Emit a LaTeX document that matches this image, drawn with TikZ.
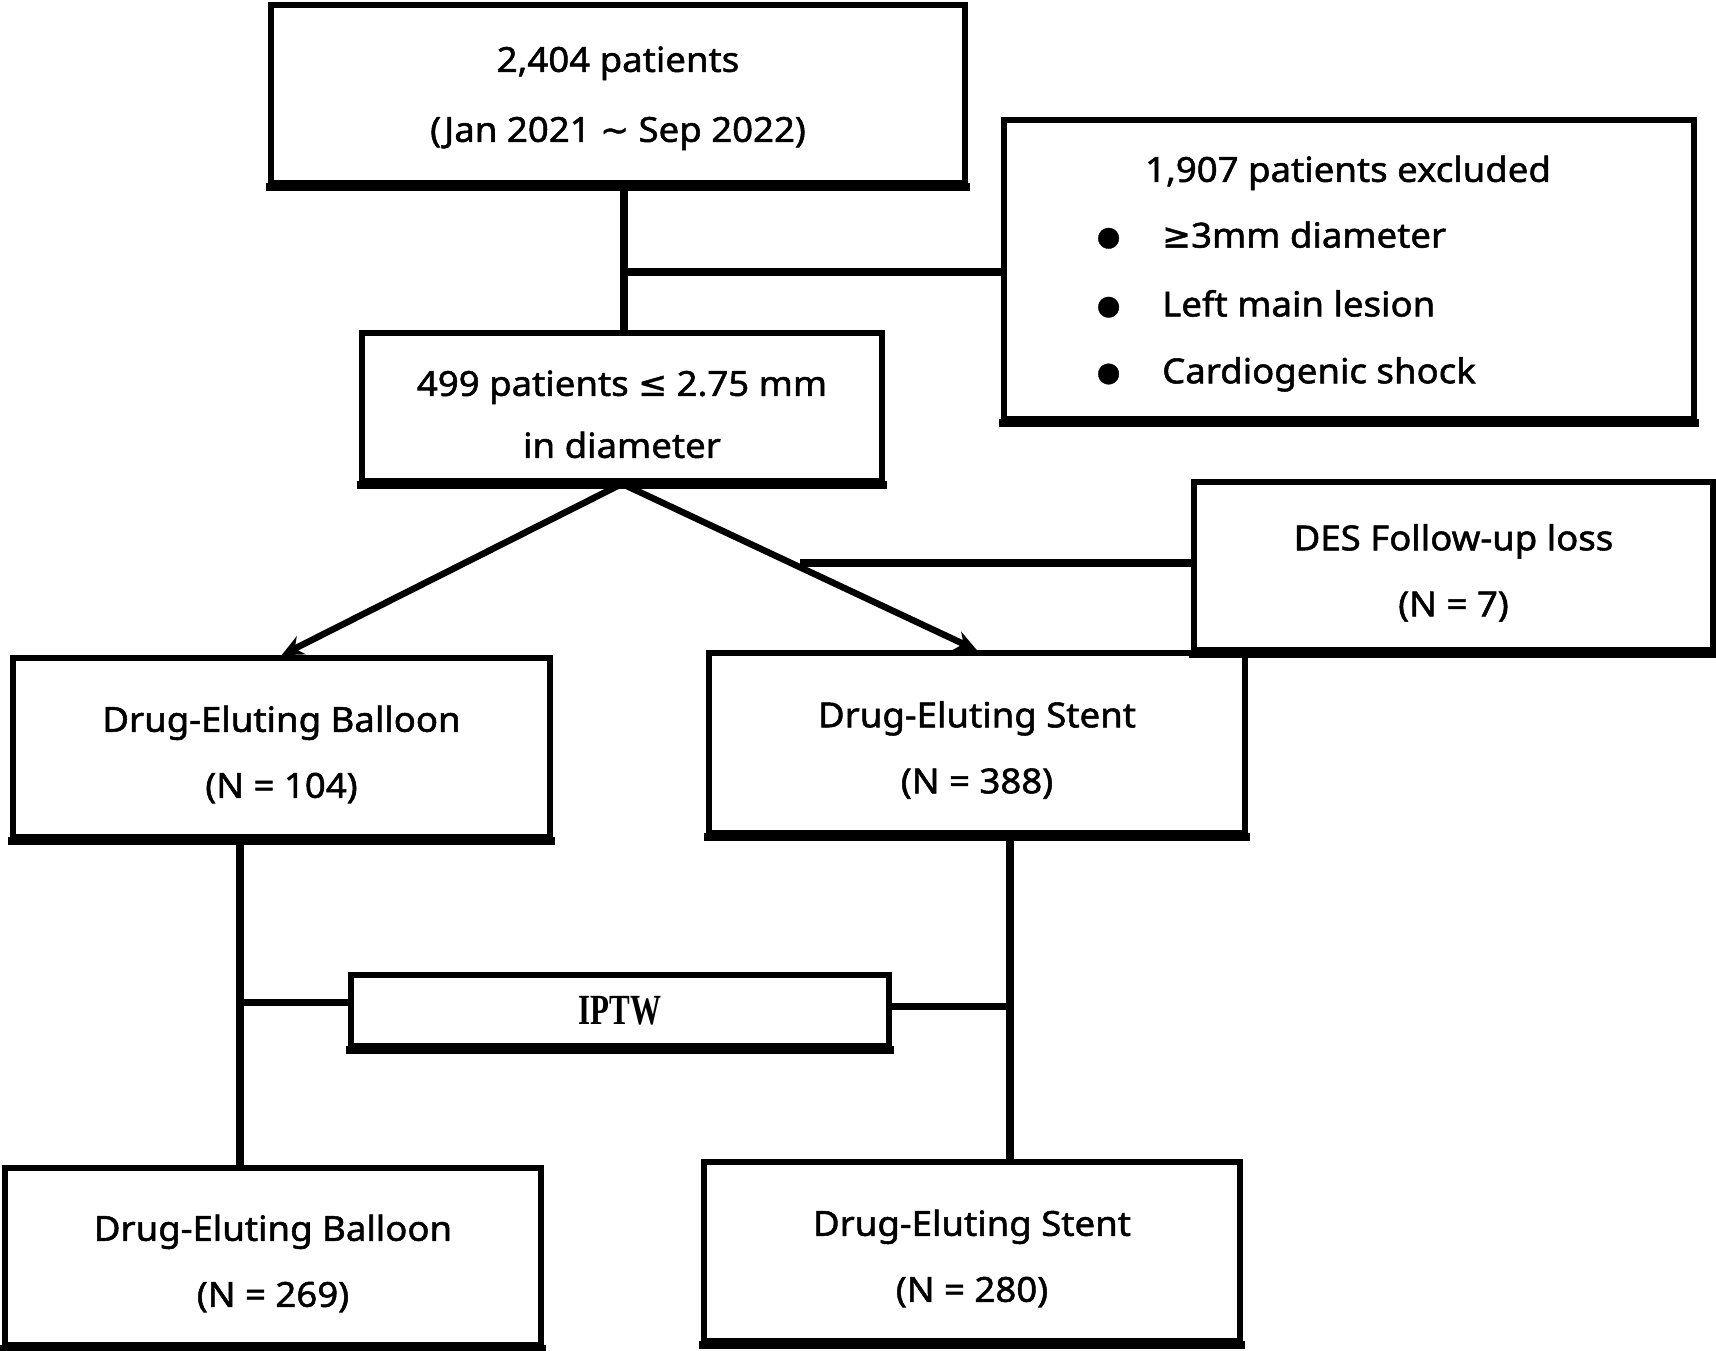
\documentclass[tikz,border=0pt]{standalone}
\usepackage{fontspec}
\usepackage{graphicx}
\setmainfont{Noto Sans}[FakeStretch=1.06, FakeBold=1.5]
\newfontfamily\symfont{DejaVu Sans}[FakeBold=1.2]
\newfontfamily\iptwfont{Liberation Serif}
\usetikzlibrary{arrows.meta}
\newcommand{\fl}{\rule{0pt}{40pt}}
\tikzset{
  box/.style={draw=black, line width=5.5pt, fill=white, align=center, inner sep=0pt,
    font=\fontsize{34.5}{68}\selectfont},
  conn/.style={draw=black, line width=7.5pt},
  arr/.style={draw=black, line width=6.5pt, -{Stealth[length=22pt,width=20pt]}},
  base/.style={draw=black, line width=7.5pt},
  txt/.style={inner sep=0pt, font=\fontsize{34.5}{40}\selectfont, text height=24.5pt, text depth=0pt},
  bul/.style={inner sep=0pt, font=\symfont\fontsize{27}{30}\selectfont, text height=20pt, text depth=0pt},
}
\begin{document}
\begin{tikzpicture}[x=1pt,y=-1pt]
\useasboundingbox (0,0) rectangle (1716,1350);
\fill[white] (0,0) rectangle (1716,1350);
% boxes
\node[box, minimum width=694pt, minimum height=178pt] (top) at (618,94) {\rule{0pt}{34pt}2,404 patients\\[2pt](Jan 2021 {\symfont\char"223C} Sep 2022)};
\node[box, minimum width=690pt, minimum height=299pt] (excl) at (1349,269.5) {};
\node[box, minimum width=520pt, minimum height=148pt] (mid) at (622,407) {\fl 499 patients {\symfont ≤} 2.75 mm\\[-6pt]in diameter};
\node[box, minimum width=519pt, minimum height=168pt] (loss) at (1453.5,566) {\fl DES Follow-up loss\\[-2pt](N = 7)};
\node[box, minimum width=537pt, minimum height=179pt] (deb) at (281.5,747.5) {\fl Drug-Eluting Balloon\\[-2pt](N = 104)};
\node[box, minimum width=536pt, minimum height=180pt] (des) at (977,743) {\fl Drug-Eluting Stent\\[-2pt](N = 388)};
\node[box, minimum width=538pt, minimum height=71pt] (iptw) at (620,1010.5) {\scalebox{0.72}[1]{\iptwfont\fontsize{43}{43}\selectfont\bfseries IPTW}};
\node[box, minimum width=536pt, minimum height=177pt] (deb2) at (273,1256.5) {\fl Drug-Eluting Balloon\\[-2pt](N = 269)};
\node[box, minimum width=536pt, minimum height=179pt] (des2) at (972,1251.5) {\fl Drug-Eluting Stent\\[-2pt](N = 280)};
% heavier bottom edges
\foreach \n in {top,excl,mid,loss,deb,des,iptw,deb2,des2}
  \draw[base] ([xshift=-2pt,yshift=-1pt]\n.south west) -- ([xshift=2pt,yshift=-1pt]\n.south east);
% excluded box contents
\node[txt] (exT) at (1348,169.6) {1,907 patients excluded};
\node[bul] (b1) at (1108.6,235.3) {●};
\node[bul] (b2) at (1108.6,304.2) {●};
\node[bul] (b3) at (1108.6,371) {●};
\node[txt, anchor=west] (e1) at (1162,235.3) {{\symfont ≥}3mm diameter};
\node[txt, anchor=west] (e2) at (1162,304.2) {Left main lesion};
\node[txt, anchor=west] (e3) at (1162,371) {Cardiogenic shock};
% connectors
\coordinate (cx) at (624,0);
\coordinate (lx) at (240,0);
\coordinate (rx) at (1010,0);
\draw[conn] ([yshift=-3pt]top.south -| cx) -- (mid.north -| cx);
\coordinate (j1) at (624,272);
\draw[conn] (j1) -- (j1 -| excl.west);
\draw[arr] (mid.south) -- (deb.north);
\draw[arr] (mid.south) -- (des.north);
\coordinate (j2) at (800,563);
\draw[conn] (j2) -- (j2 -| loss.west);
\draw[conn] ([yshift=-3pt]deb.south -| lx) -- (deb2.north -| lx);
\draw[conn] ([yshift=-3pt]des.south -| rx) -- (des2.north -| rx);
\draw[conn] ([yshift=8pt]iptw.west) -- ([yshift=8pt]iptw.west -| lx);
\draw[conn] ([yshift=4pt]iptw.east) -- ([yshift=4pt]iptw.east -| rx);
\end{tikzpicture}
\end{document}
